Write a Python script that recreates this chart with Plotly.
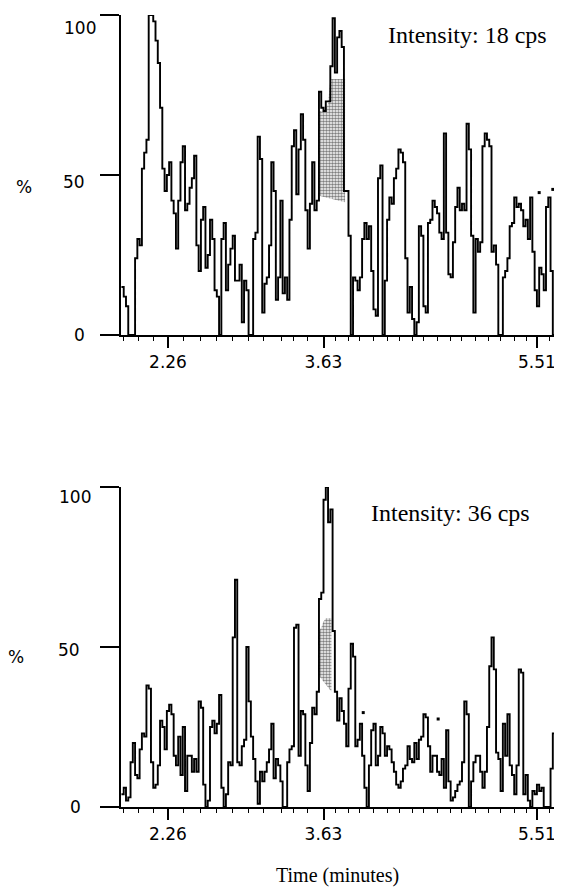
import plotly.graph_objects as go

# page is 562x887; the HTML body has an 8px margin, so the figure is placed at (8, 8)
PAGE_W, PAGE_H, OFF = 562, 887, 8
W, H = PAGE_W - OFF, PAGE_H - OFF

# ---------------- data ----------------
scan_time = [
    1.85, 1.87, 1.89, 1.91, 1.93, 1.95, 1.97, 1.99, 2.01, 2.03,
    2.05, 2.07, 2.09, 2.11, 2.13, 2.15, 2.17, 2.19, 2.21, 2.23,
    2.25, 2.27, 2.29, 2.31, 2.33, 2.35, 2.37, 2.39, 2.41, 2.43,
    2.45, 2.47, 2.49, 2.51, 2.53, 2.55, 2.57, 2.59, 2.61, 2.63,
    2.65, 2.67, 2.69, 2.71, 2.73, 2.75, 2.77, 2.79, 2.81, 2.83,
    2.85, 2.87, 2.89, 2.91, 2.93, 2.95, 2.97, 2.99, 3.01, 3.03,
    3.05, 3.07, 3.09, 3.11, 3.13, 3.15, 3.17, 3.19, 3.21, 3.23,
    3.25, 3.27, 3.29, 3.31, 3.33, 3.35, 3.37, 3.39, 3.41, 3.43,
    3.45, 3.47, 3.49, 3.51, 3.53, 3.55, 3.57, 3.59, 3.61, 3.63,
    3.65, 3.67, 3.69, 3.71, 3.73, 3.75, 3.77, 3.79, 3.81, 3.83,
    3.85, 3.87, 3.89, 3.91, 3.93, 3.95, 3.97, 3.99, 4.01, 4.03,
    4.05, 4.07, 4.09, 4.11, 4.13, 4.15, 4.17, 4.19, 4.21, 4.23,
    4.25, 4.27, 4.29, 4.31, 4.33, 4.35, 4.37, 4.39, 4.41, 4.43,
    4.45, 4.47, 4.49, 4.51, 4.53, 4.55, 4.57, 4.59, 4.61, 4.63,
    4.65, 4.67, 4.69, 4.71, 4.73, 4.75, 4.77, 4.79, 4.81, 4.83,
    4.85, 4.87, 4.89, 4.91, 4.93, 4.95, 4.97, 4.99, 5.01, 5.03,
    5.05, 5.07, 5.09, 5.11, 5.13, 5.15, 5.17, 5.19, 5.21, 5.23,
    5.25, 5.27, 5.29, 5.31, 5.33, 5.35, 5.37, 5.39, 5.41, 5.43,
    5.45, 5.47, 5.49, 5.51, 5.53, 5.55, 5.57, 5.59, 5.61, 5.63,
    5.65, 5.67, 5.69, 5.71, 5.73,
]

top_pct = [
    15, 12, 9, 0, 0, 0, 24, 30, 28, 52,
    57, 61, 100, 100, 98, 92, 85, 71, 52, 45,
    50, 54, 42, 38, 27, 42, 54, 59, 39, 41,
    46, 49, 56, 28, 20, 36, 40, 21, 25, 36,
    30, 14, 12, 0, 30, 35, 14, 22, 27, 31,
    17, 17, 22, 4, 17, 14, 0, 0, 30, 32,
    62, 55, 7, 16,
    18, 28, 54, 45, 11, 18, 42, 13, 18, 11,
    36, 59, 64, 44, 58, 69, 61, 39, 27, 41,
    54, 39, 42, 76, 71, 70, 73, 73, 84, 99,
    82, 93, 95, 90, 45, 45, 31, 0, 18, 17,
    14, 18, 30, 35, 30, 34, 20, 8, 6, 49,
    53, 0, 17, 36, 43, 41, 49, 52, 58, 57,
    54, 24, 7, 15,
    5, 0, 4, 34, 31, 9, 7, 35, 36, 42,
    40, 38, 32, 30, 63, 32, 19, 18, 29, 40,
    46, 39, 41, 39, 66, 58, 31, 7, 30, 26,
    29, 59, 63, 61, 59, 26, 28, 22, 0, 0,
    18, 20, 24, 34, 35, 43, 40, 41, 39, 34,
    36, 30, 43, 26, 14, 9, 21, 19, 14, 40,
    43, 20, 0, 34, 33, 4, 30,
]

bottom_pct = [
    4, 6, 2, 3, 14, 20, 10, 9, 18, 23,
    22, 38, 37, 14, 6, 7, 13, 27, 25, 18,
    30, 32, 29, 16, 13, 22, 10, 25, 5, 16,
    16, 11, 15, 11, 33, 31, 7, 0, 2, 25,
    27, 23, 26, 35, 6, 0, 4, 14, 13, 53,
    71, 14, 13, 19, 21, 50, 33, 22, 15, 8,
    1, 11, 8, 11, 14, 18, 26, 9, 15, 13,
    8, 0, 0, 14, 18, 19, 56, 57, 16, 30,
    29, 13, 5, 20, 31, 29, 36, 65, 67, 96,
    100, 89, 93, 55, 36, 27, 34,
    30, 26, 19, 37, 51, 47, 19, 21, 26, 16,
    6, 0, 13, 24, 26, 13, 16, 25, 23, 16,
    19, 18, 14, 11, 7, 6, 8, 12, 13, 19,
    15, 14, 20, 15, 21, 22, 29, 28, 19, 11,
    16, 16, 11, 10, 15, 6, 24, 8, 2, 3,
    5, 7, 8, 14, 33, 29, 0, 8, 14, 16,
    16, 11, 6, 11, 25, 44, 53, 43, 17, 15,
    5, 26, 16, 29, 13, 10, 4, 13, 43, 42,
    4, 10, 2, 0, 5, 4, 7, 5, 6, 0,
    0, 0, 12, 23, 25, 16, 30, 27,
]

# stray single-scan points visible in the plots
stray_time_top = [5.53, 5.65]
stray_pct_top = [44.5, 45.5]
stray_time_bottom = [3.98, 4.64]
stray_pct_bottom = [29.5, 27.5]

# integrated (shaded) peak regions
fill_time_top = [3.59, 3.61, 3.63, 3.65, 3.67, 3.69, 3.71, 3.73, 3.75, 3.77, 3.79, 3.82]
fill_upper_top = [70, 70, 70, 71, 72, 80, 80, 80, 80, 80, 80, 80]
fill_base_top = [43.5, 41.5]          # baseline at start / end of the region

fill_time_bottom = [3.59, 3.61, 3.63, 3.65, 3.67, 3.70]
fill_upper_bottom = [55, 56, 58, 59, 59, 59]
fill_base_bottom = [41, 36]

x_tick_vals = [2.26, 3.63, 5.51]
x_tick_text = ["2.26", "3.63", "5.51"]
x_minor_vals = [1.87, 2.00, 2.13, 2.40, 2.55, 2.69, 2.83, 2.97, 3.10, 3.26,
                3.37, 3.49, 3.74, 3.85, 3.95, 4.07, 4.19, 4.30, 4.41, 4.51,
                4.63, 4.75, 4.85, 4.97, 5.08, 5.19, 5.31, 5.42, 5.62]
y_tick_vals = [0, 50, 100]
intensity_labels = ["Intensity: 18 cps", "Intensity: 36 cps"]

# ---------------- figure ----------------
def px(x):
    return (x - OFF) / W

def py(y):
    return 1 - (y - OFF) / H

fig = go.Figure()

def add_fill(times, upper, base, xa, ya):
    xs = list(times) + [times[-1], times[0]]
    ys = list(upper) + [base[1], base[0]]
    fig.add_trace(go.Scatter(
        x=xs, y=ys, xaxis=xa, yaxis=ya, mode="lines", fill="toself",
        line=dict(width=0, color="rgba(0,0,0,0)"),
        fillcolor="white",
        fillpattern=dict(shape=".", fgcolor="black", bgcolor="white",
                         size=3, solidity=0.55),
        hoverinfo="skip", showlegend=False))

add_fill(fill_time_top, fill_upper_top, fill_base_top, "x", "y")
add_fill(fill_time_bottom, fill_upper_bottom, fill_base_bottom, "x2", "y2")

for vals, xa, ya in [(top_pct, "x", "y"), (bottom_pct, "x2", "y2")]:
    fig.add_trace(go.Scatter(
        x=scan_time, y=vals, xaxis=xa, yaxis=ya, mode="lines",
        line=dict(color="black", width=1.9, shape="hv"),
        showlegend=False, hoverinfo="skip"))

for t, v, xa, ya in [(stray_time_top, stray_pct_top, "x", "y"),
                     (stray_time_bottom, stray_pct_bottom, "x2", "y2")]:
    fig.add_trace(go.Scatter(
        x=t, y=v, xaxis=xa, yaxis=ya, mode="markers",
        marker=dict(symbol="square", size=3, color="black", line=dict(width=0)),
        showlegend=False, hoverinfo="skip"))

xrange = [1.846, 5.731]
sans_family = "DejaVu Sans, Verdana, sans-serif"
serif_family = "Liberation Serif, Times New Roman, serif"
tickfont = dict(family=sans_family, size=17, color="black")

common_x = dict(range=xrange, showline=True, linewidth=2, linecolor="black",
                ticks="outside", ticklen=11, tickwidth=1.5, tickcolor="black",
                tickmode="array", tickvals=x_tick_vals, ticktext=x_tick_text,
                tickfont=tickfont, showgrid=False, zeroline=False,
                minor=dict(tickmode="array", tickvals=x_minor_vals, ticks="outside",
                           ticklen=4, tickwidth=1, tickcolor="black", showgrid=False))
common_y = dict(range=[0, 100], showline=True, linewidth=2, linecolor="black",
                ticks="outside", ticklen=19, tickwidth=2, tickcolor="black",
                tickmode="array", tickvals=y_tick_vals, showticklabels=False,
                showgrid=False, zeroline=False)

fig.update_layout(
    width=W, height=H, margin=dict(l=0, r=0, t=0, b=0),
    paper_bgcolor="white", plot_bgcolor="white",
    xaxis=dict(domain=[px(121), 1.0], anchor="y", **common_x),
    yaxis=dict(domain=[py(335), py(15)], anchor="x", **common_y),
    xaxis2=dict(domain=[px(121), 1.0], anchor="y2", **common_x),
    yaxis2=dict(domain=[py(807), py(487)], anchor="x2", **common_y),
)

sans = dict(family=sans_family, size=17, color="black")
serif = dict(family=serif_family, size=24, color="black")

ann = []
# y tick labels
for text, xr, yc in [("100", 98, 28), ("50", 87, 182), ("0", 87, 335),
                     ("100", 93, 497), ("50", 82, 650), ("0", 83, 807)]:
    ann.append(dict(text=text, x=px(xr), y=py(yc), xref="paper", yref="paper",
                    xanchor="right", yanchor="middle", showarrow=False, font=sans))
# % labels
for xc, yc in [(24, 187), (16, 657)]:
    ann.append(dict(text="%", x=px(xc), y=py(yc), xref="paper", yref="paper",
                    xanchor="center", yanchor="middle", showarrow=False, font=sans))
# intensity labels
for text, xc, yc in [(intensity_labels[0], 467, 35), (intensity_labels[1], 450, 513)]:
    ann.append(dict(text=text, x=px(xc), y=py(yc), xref="paper", yref="paper",
                    xanchor="center", yanchor="middle", showarrow=False, font=serif))
# x title
ann.append(dict(text="Time (minutes)", x=px(337), y=py(875), xref="paper", yref="paper",
                xanchor="center", yanchor="middle", showarrow=False,
                font=dict(family=serif_family, size=20, color="black")))
fig.update_layout(annotations=ann)

fig.write_html("out.html")
